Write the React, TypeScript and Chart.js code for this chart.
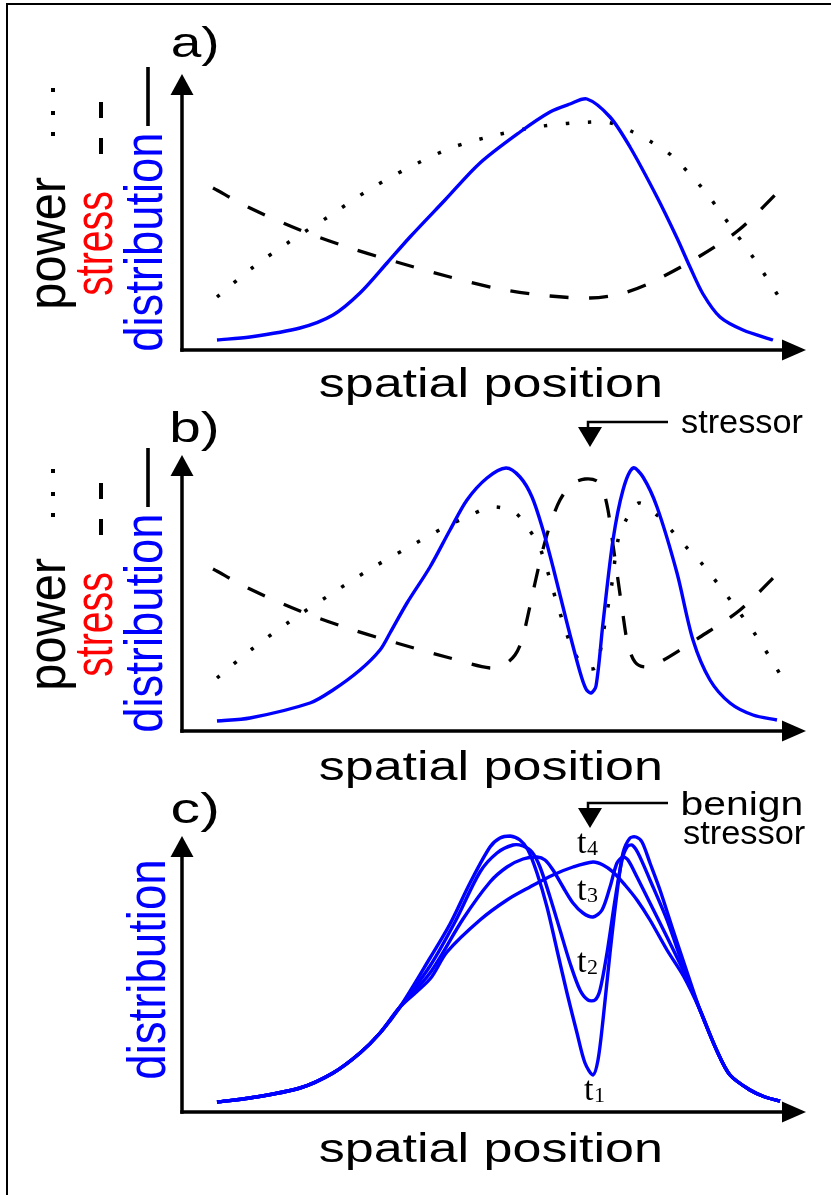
import React, { useEffect, useRef } from "react";
import { Chart, registerables } from "chart.js";

Chart.register(...registerables);

type Pt = [number, number];

// ---------- DATA (x: spatial position 0–62.4, y: level 0–27.6) ----------
const X_MAX = 62.4;
const Y_MAX = 27.6;

const panelLetters = ["a)", "b)", "c)"];
const xAxisTitle = "spatial position";
const yLabelsFull = ["power", "stress", "distribution"];
const yLabelC = "distribution";
const stressorLabelB = ["stressor"];
const stressorLabelC = ["benign", "stressor"];
const stressorPosition = 40.8;
const timeLabels = ["4", "3", "2", "1"];

// panel a
const aDistribution: Pt[] = [
  [3.5, 1.0], [6.8, 1.3], [11.8, 2.2], [15.1, 3.5], [17.8, 5.7], [20.5, 8.7],
  [22.8, 11.3], [26.3, 15.0], [29.8, 18.7], [33.8, 21.8], [36.8, 23.8], [38.8, 24.6],
  [40.5, 25.1], [42.8, 23.3], [44.8, 20.3], [47.5, 15.3], [49.5, 11.2], [50.8, 8.3],
  [52.1, 5.6], [53.8, 3.3], [56.1, 2.0], [59.1, 1.0],
];
const aPower: Pt[] = [
  [3.5, 5.3], [7.0, 8.2], [10.7, 10.8], [14.6, 13.3], [18.5, 15.9], [22.6, 18.2],
  [26.9, 20.2], [31.4, 21.5], [36.1, 22.4], [40.9, 22.8], [42.9, 22.7], [45.1, 21.8],
  [47.1, 20.7], [49.0, 19.4], [52.1, 16.1], [54.7, 12.6], [57.3, 9.0], [59.7, 5.3],
];
const aStress: Pt[] = [
  [3.1, 16.2], [6.8, 14.2], [11.8, 12.0], [16.8, 10.2], [21.8, 8.7], [26.8, 7.3],
  [31.8, 6.1], [36.8, 5.4], [40.8, 5.2], [43.8, 5.6], [46.8, 6.7], [51.8, 9.4],
  [55.8, 12.1], [60.0, 16.2],
];

// panel b
const bDistribution: Pt[] = [
  [3.5, 1.0], [6.8, 1.3], [12.8, 2.8], [15.1, 4.1], [17.8, 6.1], [19.8, 8.1],
  [20.8, 9.8], [22.5, 12.8], [24.8, 16.4], [26.8, 20.1], [28.5, 23.1], [30.5, 25.3],
  [32.4, 26.3], [33.8, 25.4], [35.0, 23.4], [36.1, 20.1], [37.1, 16.4], [38.5, 10.8],
  [39.8, 5.9], [40.4, 4.2], [40.9, 3.8], [41.4, 4.5], [42.1, 10.8], [43.1, 19.1],
  [44.1, 24.1], [45.1, 26.3], [46.1, 25.4], [47.5, 22.4], [49.5, 15.8], [51.1, 9.1],
  [52.8, 5.1], [54.8, 2.8], [57.1, 1.6], [59.5, 1.1],
];
const bStress: Pt[] = [
  [3.1, 16.2], [6.8, 14.2], [11.8, 12.0], [16.8, 10.2], [21.8, 8.7], [26.8, 7.3],
  [30.8, 6.3], [32.3, 6.7], [33.3, 7.6], [34.0, 9.1], [34.6, 11.6], [35.3, 14.8],
  [36.0, 17.8], [36.8, 20.6], [37.8, 23.1], [39.0, 24.7], [40.3, 25.2], [41.5, 25.0],
  [42.1, 24.1], [42.6, 22.1], [43.1, 18.6], [43.6, 15.1], [44.1, 11.6], [44.6, 8.6],
  [45.3, 6.9], [46.3, 6.4], [47.8, 6.9], [51.8, 9.4], [55.8, 12.1], [60.0, 16.2],
];
const bPower: Pt[] = [
  [3.5, 5.3], [7.0, 8.2], [10.7, 10.9], [14.6, 13.5], [18.5, 16.0], [22.5, 18.3],
  [26.5, 20.5], [28.7, 21.5], [30.9, 22.4], [33.2, 21.9], [34.6, 20.3], [35.8, 18.3],
  [37.1, 14.1], [37.7, 12.1], [39.1, 8.1], [40.4, 6.3], [41.4, 6.4], [42.3, 10.8],
  [43.0, 14.8], [43.6, 19.1], [44.4, 21.1], [45.7, 22.8], [47.6, 21.5], [49.1, 19.9],
  [50.6, 18.2], [52.1, 16.6], [54.9, 13.0], [57.5, 9.4], [59.8, 5.7],
];

// panel c (shared rise and tail, four time steps in between)
const cRise: Pt[] = [
  [3.5, 1.0], [6.8, 1.4], [11.8, 2.4], [15.1, 3.9], [17.8, 5.9], [19.8, 7.9], [21.8, 10.5],
];
const cTail: Pt[] = [
  [51.8, 10.2], [53.5, 6.1], [54.8, 3.7], [56.8, 2.2], [58.3, 1.5], [59.8, 1.1],
];
const cT1: Pt[] = [
  [24.8, 15.4], [26.8, 18.8], [28.8, 22.9], [30.8, 26.5], [31.8, 27.4], [32.8, 27.6],
  [33.8, 27.2], [34.6, 26.2], [35.5, 23.9], [36.5, 20.5], [37.5, 16.2], [38.5, 11.9],
  [39.5, 7.9], [40.3, 4.9], [41.1, 3.7], [41.6, 5.2], [42.1, 9.2], [42.8, 15.9],
  [43.5, 21.9], [44.1, 25.9], [44.8, 27.4], [45.4, 27.5], [46.0, 27.0], [46.8, 24.9],
  [47.8, 22.2], [49.1, 18.2], [50.6, 13.7],
];
const cT2: Pt[] = [
  [24.8, 14.6], [27.3, 19.0], [29.8, 24.0], [31.5, 25.9], [33.1, 26.7], [34.1, 26.6],
  [35.0, 26.0], [35.8, 24.5], [36.8, 21.5], [37.8, 18.2], [38.8, 14.9], [39.8, 12.2],
  [40.6, 11.2], [41.3, 11.2], [41.8, 12.2], [42.5, 15.9], [43.3, 21.2], [44.0, 25.2],
  [44.5, 26.5], [45.0, 26.7], [45.6, 25.9], [46.8, 23.2], [48.5, 19.2], [50.2, 14.4],
];
const cT3: Pt[] = [
  [24.8, 13.9], [28.1, 19.3], [30.8, 23.0], [32.5, 24.5], [34.1, 25.3], [35.5, 25.5],
  [36.3, 25.2], [37.1, 24.2], [38.1, 22.5], [39.1, 20.9], [40.1, 19.9], [41.1, 19.5],
  [42.0, 20.2], [42.8, 22.5], [43.5, 24.9], [44.1, 25.5], [44.6, 25.2], [45.5, 23.5],
  [46.8, 20.9], [48.5, 17.5], [50.2, 14.0],
];
const cT4: Pt[] = [
  [24.8, 13.3], [26.5, 16.0], [29.8, 19.2], [32.5, 21.2], [34.8, 22.5], [37.1, 23.7],
  [39.1, 24.5], [41.1, 25.0], [42.1, 24.7], [43.1, 24.0], [44.3, 22.7], [45.5, 21.2],
  [46.8, 19.2], [48.5, 16.2], [50.2, 13.5],
];

// ---------- STYLE ----------
const BLUE = "#0000ff";
const RED = "#ff0000";
const SANS = '"Liberation Sans", Arial, sans-serif';
const SERIF = '"Liberation Serif", "Times New Roman", serif';
const CANVAS_W = 831;
const CANVAS_H = 433;
const PANEL_STEP = 381;

const toXY = (pts: Pt[]) => pts.map(([x, y]) => ({ x, y }));

const lineBase = {
  pointRadius: 0,
  fill: false,
  tension: 0.3,
  clip: false as any,
  borderCapStyle: "butt" as const,
  borderJoinStyle: "round" as const,
};
const distDs = (pts: Pt[]) => ({ ...lineBase, data: toXY(pts), borderColor: BLUE, borderWidth: 3.4 });
const stressDs = (pts: Pt[]) => ({ ...lineBase, data: toXY(pts), borderColor: "#000", borderWidth: 3.3, borderDash: [19, 20.5] });
const powerDs = (pts: Pt[]) => ({ ...lineBase, data: toXY(pts), borderColor: "#000", borderWidth: 3.5, borderDash: [3.5, 18.5] });

function fitText(
  ctx: CanvasRenderingContext2D, text: string, x: number, y: number,
  len: number, size: number, family: string, color: string, rotate = false
) {
  ctx.save();
  ctx.font = `${size}px ${family}`;
  ctx.fillStyle = color;
  ctx.textAlign = "left";
  ctx.textBaseline = "alphabetic";
  const m = ctx.measureText(text);
  const w = m.actualBoundingBoxLeft + m.actualBoundingBoxRight;
  ctx.translate(x, y);
  if (rotate) ctx.rotate(-Math.PI / 2);
  ctx.scale(len / w, 1);
  ctx.fillText(text, m.actualBoundingBoxLeft, 0);
  ctx.restore();
}

function drawAxes(chart: any) {
  const { ctx, chartArea: ca } = chart;
  const x0 = ca.left;
  const y0 = chart.scales.y.getPixelForValue(0);
  ctx.save();
  ctx.strokeStyle = "#000";
  ctx.fillStyle = "#000";
  ctx.lineWidth = 3.5;
  ctx.beginPath();
  ctx.moveTo(x0, y0 + 1.75);
  ctx.lineTo(x0, ca.top + 20);
  ctx.stroke();
  ctx.beginPath();
  ctx.moveTo(x0 - 11.5, ca.top + 21);
  ctx.lineTo(x0 + 11.5, ca.top + 21);
  ctx.lineTo(x0, ca.top);
  ctx.closePath();
  ctx.fill();
  ctx.beginPath();
  ctx.moveTo(x0 - 1.75, y0);
  ctx.lineTo(ca.right - 23, y0);
  ctx.stroke();
  ctx.beginPath();
  ctx.moveTo(ca.right - 24, y0 - 10.5);
  ctx.lineTo(ca.right - 24, y0 + 10.5);
  ctx.lineTo(ca.right, y0);
  ctx.closePath();
  ctx.fill();
  ctx.restore();
}

function drawLegendMarks(ctx: CanvasRenderingContext2D) {
  ctx.save();
  ctx.fillStyle = "#000";
  [90, 113, 134].forEach((cy) => ctx.fillRect(51, cy - 2, 4, 4));
  ctx.fillRect(99, 102, 4, 16);
  ctx.fillRect(99, 138, 4, 16);
  ctx.fillRect(146.2, 67, 3.6, 59);
  ctx.restore();
}

function drawStressorArrow(chart: any, lines: string[]) {
  const { ctx } = chart;
  const tip = chart.scales.x.getPixelForValue(stressorPosition);
  ctx.save();
  ctx.strokeStyle = "#000";
  ctx.fillStyle = "#000";
  ctx.lineWidth = 2.5;
  ctx.beginPath();
  ctx.moveTo(tip + 78, 41);
  ctx.lineTo(tip - 2, 41);
  ctx.lineTo(tip - 2, 47);
  ctx.stroke();
  ctx.beginPath();
  ctx.moveTo(tip - 12, 46);
  ctx.lineTo(tip + 12, 46);
  ctx.lineTo(tip, 66);
  ctx.closePath();
  ctx.fill();
  ctx.restore();
  if (lines.length === 1) {
    fitText(ctx, lines[0], 681, 52, 122, 33, SANS, "#000");
  } else {
    fitText(ctx, lines[0], 683, 53, 118, 34, SANS, "#000");
    fitText(ctx, lines[1], 683, 82, 122, 34, SANS, "#000");
  }
}

function drawTimeLabels(chart: any) {
  const { ctx } = chart;
  const base = chart.scales.x.getPixelForValue(stressorPosition);
  const pos: [number, number][] = [[-13, 91], [-13, 138], [-13, 210], [-6, 338]];
  ctx.save();
  ctx.fillStyle = "#000";
  ctx.textBaseline = "alphabetic";
  timeLabels.forEach((d, i) => {
    const x = base + pos[i][0];
    const y = pos[i][1];
    ctx.font = `34px ${SERIF}`;
    ctx.fillText("t", x, y);
    const w = ctx.measureText("t").width;
    ctx.font = `22px ${SERIF}`;
    ctx.fillText(d, x + w + 0.5, y + 2);
  });
  ctx.restore();
}

type PanelCfg = {
  datasets: any[];
  letter: string;
  letterBaseline: number;
  titleBaseline: number;
  kind: "full" | "c";
};

const panels: PanelCfg[] = [
  {
    datasets: [distDs(aDistribution), stressDs(aStress), powerDs(aPower)],
    letter: panelLetters[0], letterBaseline: 57, titleBaseline: 397, kind: "full",
  },
  {
    datasets: [distDs(bDistribution), stressDs(bStress), powerDs(bPower)],
    letter: panelLetters[1], letterBaseline: 61, titleBaseline: 399, kind: "full",
  },
  {
    datasets: [cT1, cT2, cT3, cT4].map((mid) => distDs([...cRise, ...mid, ...cTail])),
    letter: panelLetters[2], letterBaseline: 61, titleBaseline: 400, kind: "c",
  },
];

function makeChart(canvas: HTMLCanvasElement, cfg: PanelCfg, idx: number) {
  const deco = {
    id: "deco" + idx,
    beforeDatasetsDraw(chart: any) {
      drawAxes(chart);
    },
    afterDatasetsDraw(chart: any) {
      const ctx = chart.ctx as CanvasRenderingContext2D;
      fitText(ctx, cfg.letter, 172, cfg.letterBaseline, 45, 42, SANS, "#000");
      fitText(ctx, xAxisTitle, 320, cfg.titleBaseline, 340, 40, SANS, "#000");
      if (cfg.kind === "full") {
        fitText(ctx, yLabelsFull[0], 65, 307, 130, 54, SANS, "#000", true);
        fitText(ctx, yLabelsFull[1], 112, 295, 103, 54, SANS, RED, true);
        fitText(ctx, yLabelsFull[2], 162, 350, 215, 54, SANS, BLUE, true);
        drawLegendMarks(ctx);
        if (idx === 1) drawStressorArrow(chart, stressorLabelB);
      } else {
        fitText(ctx, yLabelC, 165, 316, 216, 54, SANS, BLUE, true);
        drawStressorArrow(chart, stressorLabelC);
        drawTimeLabels(chart);
      }
    },
  };
  return new Chart(canvas, {
    type: "line",
    data: { datasets: cfg.datasets },
    options: {
      responsive: false,
      maintainAspectRatio: false,
      animation: false,
      devicePixelRatio: 1,
      layout: { padding: { left: 182, right: 25, top: 74, bottom: 83 } },
      scales: {
        x: { type: "linear", min: 0, max: X_MAX, display: false },
        y: { type: "linear", min: 0, max: Y_MAX, display: false },
      },
      plugins: { legend: { display: false }, tooltip: { enabled: false } },
      events: [],
    } as any,
    plugins: [deco],
  });
}

export default function App() {
  const r0 = useRef<HTMLCanvasElement>(null);
  const r1 = useRef<HTMLCanvasElement>(null);
  const r2 = useRef<HTMLCanvasElement>(null);

  useEffect(() => {
    const refs = [r0, r1, r2];
    const charts = panels.map((p, i) => makeChart(refs[i].current!, p, i));
    return () => charts.forEach((c) => c.destroy());
  }, []);

  const cStyle = (i: number): React.CSSProperties => ({
    position: "absolute",
    left: 0,
    top: i * PANEL_STEP,
    width: CANVAS_W,
    height: CANVAS_H,
  });

  return (
    <div
      style={{
        position: "fixed", left: 0, top: 0, width: 831, height: 1195,
        overflow: "hidden", background: "#fff",
      }}
    >
      <div
        style={{
          position: "absolute", left: 6, top: 3, width: 1200, height: 1600,
          borderLeft: "2px solid #000", borderTop: "2px solid #000",
        }}
      />
      <canvas ref={r0} width={CANVAS_W} height={CANVAS_H} style={cStyle(0)} />
      <canvas ref={r1} width={CANVAS_W} height={CANVAS_H} style={cStyle(1)} />
      <canvas ref={r2} width={CANVAS_W} height={CANVAS_H} style={cStyle(2)} />
    </div>
  );
}
